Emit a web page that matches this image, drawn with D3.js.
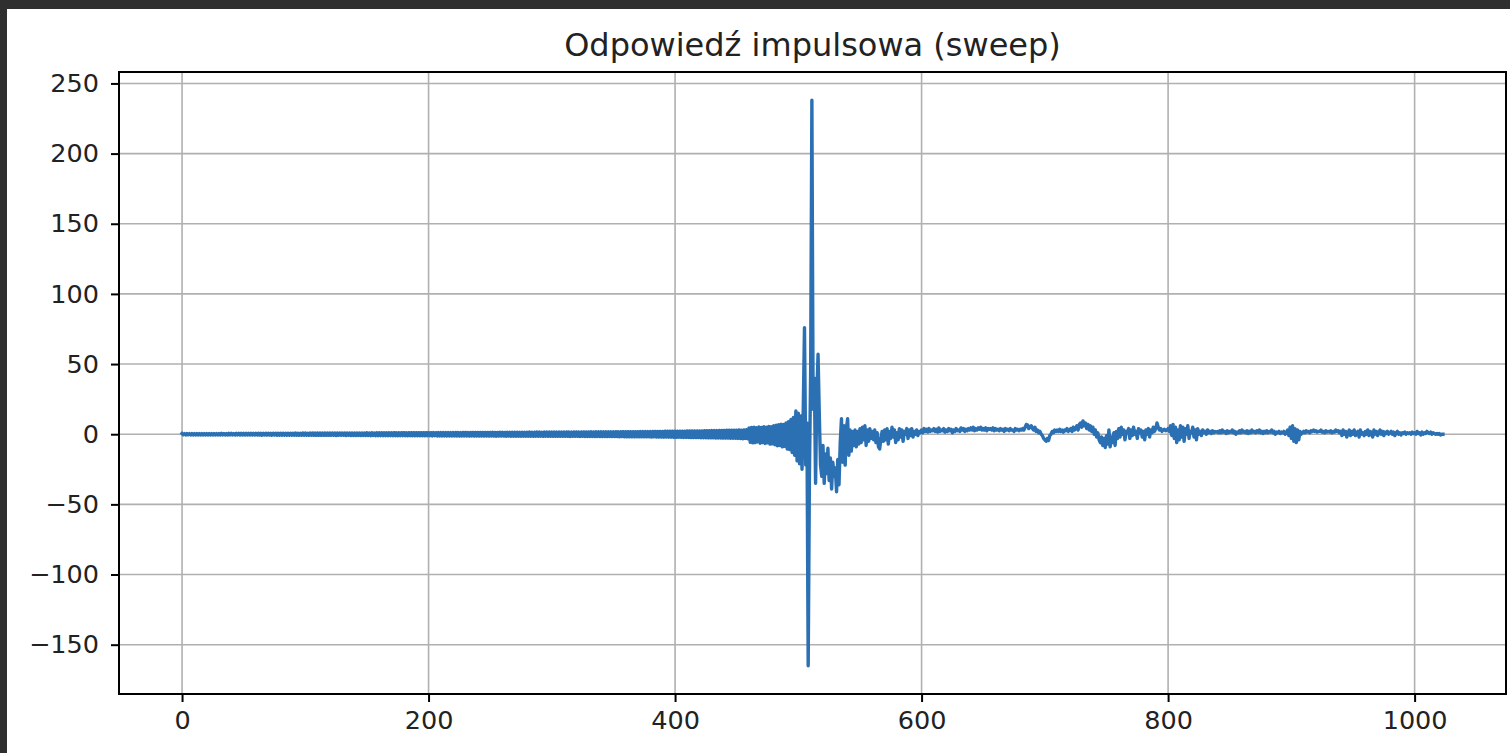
<!DOCTYPE html>
<html>
<head>
<meta charset="utf-8">
<script src="https://cdn.jsdelivr.net/npm/d3@7"></script>
<style>
  html, body { margin: 0; padding: 0; background: #2f2f2f; }
  svg { display: block; }
  .tick text { font-family: "DejaVu Sans", sans-serif; fill: #222; }
</style>
</head>
<body>
<svg id="chart" width="1510" height="753"></svg>
<script>
// sample values, in order, index = sample number
// pre-ringing before the pulse (0..449)
var preRing = [
  0.5,-0.4,0.4,-0.5,0.5,-0.4,0.4,-0.5,0.5,-0.5,
  0.5,-0.5,0.5,-0.5,0.5,-0.5,0.5,-0.5,0.5,-0.5,
  0.5,-0.5,0.5,-0.5,0.5,-0.5,0.5,-0.5,0.5,-0.5,
  0.5,-0.5,0.6,-0.5,0.5,-0.6,0.5,-0.5,0.6,-0.5,
  0.6,-0.5,0.5,-0.6,0.6,-0.5,0.6,-0.6,0.6,-0.6,
  0.6,-0.6,0.6,-0.6,0.6,-0.6,0.6,-0.6,0.6,-0.6,
  0.6,-0.6,0.7,-0.6,0.6,-0.7,0.6,-0.6,0.7,-0.6,
  0.7,-0.6,0.6,-0.7,0.7,-0.6,0.7,-0.7,0.7,-0.7,
  0.7,-0.7,0.7,-0.7,0.7,-0.7,0.7,-0.7,0.7,-0.7,
  0.7,-0.7,0.8,-0.7,0.7,-0.8,0.7,-0.7,0.8,-0.7,
  0.8,-0.7,0.7,-0.8,0.8,-0.7,0.8,-0.8,0.8,-0.8,
  0.8,-0.8,0.8,-0.8,0.8,-0.8,0.8,-0.8,0.8,-0.8,
  0.8,-0.8,0.9,-0.8,0.8,-0.9,0.8,-0.8,0.9,-0.8,
  0.9,-0.8,0.8,-0.9,0.9,-0.8,0.9,-0.9,0.9,-0.9,
  0.9,-0.9,0.9,-0.9,0.9,-0.9,0.9,-0.9,0.9,-0.9,
  1.0,-0.9,0.9,-1.0,1.0,-0.9,0.9,-1.0,1.0,-1.0,
  1.0,-1.0,1.0,-1.0,1.0,-1.0,1.0,-1.0,1.0,-1.0,
  1.0,-1.0,1.1,-1.0,1.0,-1.1,1.0,-1.0,1.1,-1.0,
  1.1,-1.0,1.0,-1.1,1.1,-1.0,1.1,-1.1,1.1,-1.1,
  1.1,-1.1,1.1,-1.1,1.1,-1.1,1.1,-1.1,1.1,-1.1,
  1.2,-1.1,1.1,-1.2,1.2,-1.1,1.1,-1.2,1.2,-1.2,
  1.2,-1.2,1.2,-1.2,1.2,-1.2,1.2,-1.2,1.2,-1.2,
  1.2,-1.2,1.3,-1.2,1.2,-1.3,1.2,-1.2,1.3,-1.2,
  1.3,-1.2,1.2,-1.3,1.3,-1.2,1.3,-1.3,1.3,-1.3,
  1.3,-1.3,1.3,-1.3,1.3,-1.3,1.3,-1.3,1.3,-1.3,
  1.3,-1.3,1.4,-1.3,1.3,-1.4,1.3,-1.3,1.4,-1.3,
  1.4,-1.3,1.3,-1.4,1.4,-1.3,1.4,-1.4,1.4,-1.4,
  1.4,-1.4,1.4,-1.4,1.4,-1.4,1.4,-1.4,1.4,-1.4,
  1.4,-1.4,1.5,-1.4,1.4,-1.5,1.4,-1.4,1.5,-1.4,
  1.5,-1.4,1.4,-1.5,1.5,-1.4,1.5,-1.5,1.5,-1.5,
  1.5,-1.5,1.5,-1.5,1.5,-1.5,1.5,-1.5,1.5,-1.5,
  1.5,-1.5,1.6,-1.5,1.5,-1.6,1.5,-1.5,1.6,-1.5,
  1.6,-1.5,1.5,-1.6,1.6,-1.5,1.6,-1.6,1.6,-1.6,
  1.6,-1.6,1.7,-1.6,1.6,-1.7,1.7,-1.6,1.7,-1.7,
  1.7,-1.7,1.7,-1.7,1.7,-1.7,1.7,-1.7,1.7,-1.7,
  1.7,-1.7,1.8,-1.7,1.7,-1.8,1.8,-1.7,1.8,-1.8,
  1.8,-1.8,1.8,-1.8,1.8,-1.8,1.8,-1.8,1.8,-1.8,
  1.8,-1.9,1.9,-1.8,1.9,-1.9,1.9,-1.9,1.9,-1.9,
  1.9,-2.0,2.0,-1.9,2.0,-2.0,2.0,-2.0,2.0,-2.0,
  2.0,-2.1,2.1,-2.0,2.1,-2.1,2.1,-2.1,2.1,-2.2,
  2.1,-2.2,2.2,-2.1,2.2,-2.2,2.2,-2.3,2.2,-2.3,
  2.3,-2.3,2.3,-2.4,2.3,-2.4,2.4,-2.4,2.4,-2.4,
  2.4,-2.5,2.4,-2.5,2.5,-2.5,2.5,-2.6,2.5,-2.6,
  2.6,-2.6,2.6,-2.7,2.6,-2.7,2.7,-2.7,2.7,-2.8,
  2.7,-2.8,2.8,-2.8,2.8,-2.9,2.8,-2.9,2.9,-2.9
];

// the pulse itself (450..559)
var pulse = [
  2.9,-3.0,3.0,-3.1,2.9,-3.2,3.1,-3.0,3.2,-3.3,
  4.5,-5.8,4.8,-6.2,5.0,-6.0,4.6,-5.5,5.2,-6.4,
  4.9,-5.9,5.3,-6.6,5.0,-6.1,5.6,-7.0,5.4,-6.8,
  6.0,-7.5,6.4,-8.2,6.8,-8.0,7.2,-9.0,7.0,-8.6,
  8.0,-10.5,9.0,-11.0,10.5,-13.0,12.0,-15.0,16.5,-19.0,
  15.0,-21.0,13.0,-25.0,18.0,76.0,-22.0,8.0,-165.0,-30.0,
  45.0,238.0,18.0,40.0,-35.0,28.0,57.0,15.0,-22.0,-30.0,
  -8.0,-35.0,-14.0,-28.0,-10.0,-33.0,-17.0,-39.0,-20.0,-30.0,
  -24.0,-41.0,-18.0,-36.0,-6.0,11.0,-20.0,6.0,-22.0,4.0,
  11.0,-15.0,3.0,-12.0,2.0,-8.0,3.0,-9.0,2.0,-7.0,
  4.0,-6.0,5.0,-4.0,6.0,-8.0,3.0,-5.0,4.0,-3.0
];

// decaying tail (560..1023)
var tail = [
  2.0,-4.0,3.0,-6.0,1.0,-9.0,-10.5,-3.0,2.0,-5.0,
  3.0,-4.0,4.0,-7.0,2.0,-3.0,5.0,-2.0,3.0,-6.0,
  1.0,-4.0,4.0,-2.0,3.0,-5.0,2.0,0.0,4.0,-3.0,
  3.0,-1.0,4.0,-2.0,2.0,0.0,3.0,-1.0,2.0,1.0,
  3.0,1.0,4.0,2.0,3.5,1.5,4.0,2.0,3.0,2.5,
  4.0,2.0,3.5,1.5,4.5,2.0,3.0,2.5,4.0,1.5,
  3.0,2.0,4.0,2.5,3.5,1.0,3.0,2.0,4.0,2.5,
  3.0,2.0,4.5,3.0,4.0,2.0,3.5,2.5,4.0,3.0,
  4.5,3.0,5.0,2.5,4.0,3.0,4.5,3.5,5.0,3.0,
  4.0,3.0,4.5,2.5,4.0,3.5,4.0,3.0,4.5,2.5,
  4.0,3.0,3.5,2.5,4.0,3.0,3.5,2.0,4.0,3.0,
  3.5,2.5,4.0,3.0,3.0,2.0,4.0,3.0,3.5,2.5,
  3.5,3.0,4.0,3.0,5.0,7.0,6.5,4.0,5.5,6.0,
  4.0,3.0,5.0,2.0,3.0,1.0,2.0,0.0,-1.0,-3.0,
  -4.0,-5.0,-3.0,-4.5,-1.0,0.0,2.0,1.0,3.0,2.0,
  3.0,2.0,3.5,2.0,3.0,1.5,3.0,2.5,4.0,2.0,
  3.0,4.0,2.0,5.0,3.0,4.0,6.0,3.0,7.0,8.0,
  5.0,9.5,6.0,8.0,4.0,7.0,3.0,6.0,2.0,5.0,
  0.0,3.0,-2.0,1.0,-4.0,-6.0,-2.0,-8.0,-3.0,-9.5,
  -1.0,-7.0,3.0,-9.0,-2.0,-6.0,1.0,-8.0,2.0,-3.0,
  4.0,-2.0,5.0,0.0,3.0,-4.0,2.0,1.0,4.0,-3.0,
  3.0,-1.0,5.0,0.0,2.0,-3.0,4.0,1.0,3.0,-2.0,
  2.0,-4.0,3.0,0.0,4.0,-2.0,3.0,1.0,5.0,2.0,
  4.0,8.0,5.0,3.0,4.0,2.0,3.0,3.5,2.5,3.0,
  4.0,2.0,6.0,-1.0,7.0,-3.0,5.0,-6.0,3.0,-4.0,
  6.0,-2.0,5.0,-5.0,4.0,0.0,6.0,-3.0,2.0,1.0,
  5.0,-2.0,3.0,-4.0,4.0,0.0,2.0,-1.0,3.0,1.0,
  2.0,0.0,3.0,1.0,2.0,0.5,2.5,1.0,2.0,1.5,
  2.0,1.0,2.5,1.0,3.0,1.5,2.0,0.5,2.5,1.0,
  2.0,1.5,3.0,1.0,2.0,0.0,1.5,1.0,2.5,1.0,
  3.0,1.5,2.0,1.0,2.5,0.5,2.0,1.0,3.0,1.5,
  2.0,1.0,2.5,1.5,3.0,1.0,2.0,0.5,2.0,1.0,
  2.5,1.0,2.0,1.5,3.0,1.0,2.0,0.0,1.5,1.0,
  2.0,0.5,1.5,1.0,2.0,0.0,1.0,3.0,-1.0,5.0,
  -3.0,6.0,-5.0,4.0,-6.0,3.0,-4.0,2.0,0.0,1.0,
  2.0,1.0,2.5,1.5,2.0,1.0,2.5,2.0,3.0,2.0,
  2.5,1.5,2.0,2.0,3.0,1.5,2.0,1.0,2.5,1.5,
  2.0,1.5,2.5,1.0,2.0,1.5,3.0,2.0,2.5,1.0,
  2.0,-1.0,3.0,0.0,2.0,-2.0,1.0,3.0,-1.0,2.0,
  0.0,3.0,-1.0,1.0,2.0,-2.0,3.0,0.0,1.0,-1.0,
  2.0,0.0,3.0,-1.0,2.0,1.0,-2.0,3.0,0.0,2.0,
  -1.0,1.0,3.0,0.0,2.0,-1.0,1.5,0.5,2.0,0.0,
  1.0,2.0,0.0,1.5,-1.0,1.0,2.0,0.0,1.0,-0.5,
  1.0,0.5,1.5,0.0,1.0,0.5,1.0,0.0,1.5,0.5,
  1.0,0.0,2.0,0.5,1.0,-0.5,1.5,0.0,1.0,0.5,
  2.0,1.0,0.5,1.5,0.0,1.0,0.5,0.0,0.5,0.0,
  0.5,-0.5,0.0,0.0
];

var xTicks = [0, 200, 400, 600, 800, 1000];
var yTicks = [-150, -100, -50, 0, 50, 100, 150, 200, 250];
var title = "Odpowiedź impulsowa (sweep)";

var values = preRing.concat(pulse, tail);

var svg = d3.select("#chart");

// white figure area inside the dark window frame
svg.append("rect")
  .attr("x", 7).attr("y", 9)
  .attr("width", 1503).attr("height", 744)
  .attr("fill", "#fff");

var margin = { left: 119, top: 72, right: 1506, bottom: 694 };

// matplotlib style 5% padding on both axes
var n = values.length - 1;
var ymin = d3.min(values), ymax = d3.max(values);
var x = d3.scaleLinear()
  .domain([-0.05 * n, n * 1.05])
  .range([margin.left, margin.right]);
var y = d3.scaleLinear()
  .domain([ymin - 0.05 * (ymax - ymin), ymax + 0.05 * (ymax - ymin)])
  .range([margin.bottom, margin.top]);

var fmt = function (d) { return String(d).replace("-", "\u2212"); };

// grid
var grid = svg.append("g");
grid.selectAll(".gx").data(xTicks).enter().append("line")
  .attr("x1", function (d) { return x(d); })
  .attr("x2", function (d) { return x(d); })
  .attr("y1", margin.top).attr("y2", margin.bottom)
  .attr("stroke", "#b0b0b0").attr("stroke-width", 1.6);
grid.selectAll(".gy").data(yTicks).enter().append("line")
  .attr("y1", function (d) { return y(d); })
  .attr("y2", function (d) { return y(d); })
  .attr("x1", margin.left).attr("x2", margin.right)
  .attr("stroke", "#b0b0b0").attr("stroke-width", 1.6);

// the series
var line = d3.line()
  .x(function (d, i) { return x(i); })
  .y(function (d) { return y(d); });

svg.append("path")
  .datum(values)
  .attr("d", line)
  .attr("fill", "none")
  .attr("stroke", "#2a70b3")
  .attr("stroke-width", 3.4)
  .attr("stroke-linejoin", "round")
  .attr("stroke-linecap", "square");

// axes
var xAxis = svg.append("g")
  .attr("transform", "translate(0," + margin.bottom + ")")
  .call(d3.axisBottom(x).tickValues(xTicks).tickFormat(fmt).tickSize(8).tickPadding(9));
var yAxis = svg.append("g")
  .attr("transform", "translate(" + margin.left + ",0)")
  .call(d3.axisLeft(y).tickValues(yTicks).tickFormat(fmt).tickSize(8).tickPadding(12));

[xAxis, yAxis].forEach(function (a) {
  a.select(".domain").remove();
  a.selectAll(".tick line").attr("stroke", "#000").attr("stroke-width", 2);
  a.selectAll(".tick text").style("font-size", "25.5px");
});

// frame
svg.append("rect")
  .attr("x", margin.left).attr("y", margin.top)
  .attr("width", margin.right - margin.left)
  .attr("height", margin.bottom - margin.top)
  .attr("fill", "none")
  .attr("stroke", "#000")
  .attr("stroke-width", 2);

svg.append("text")
  .attr("x", (margin.left + margin.right) / 2)
  .attr("y", 56)
  .attr("text-anchor", "middle")
  .style("font-family", "DejaVu Sans, sans-serif")
  .style("font-size", "32px")
  .attr("fill", "#222")
  .text(title);
</script>
</body>
</html>
